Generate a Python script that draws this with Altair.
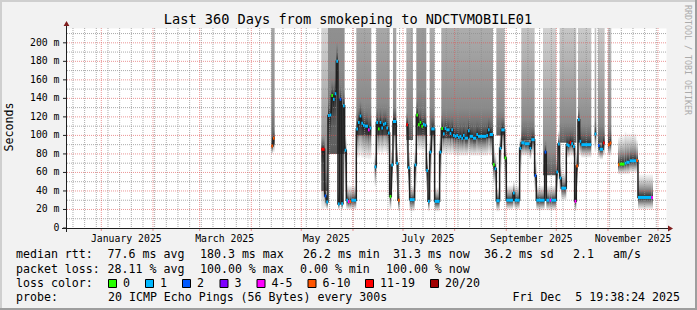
import altair as alt
import pandas as pd

FONT = "DejaVu Sans Mono"

# ---------------- data ----------------
run_start = [
    "2025-04-13", "2025-04-14", "2025-05-13", "2025-05-15", "2025-05-16", "2025-05-17", "2025-05-18",
    "2025-05-19", "2025-05-20", "2025-05-21", "2025-05-22", "2025-05-23", "2025-05-24", "2025-05-25",
    "2025-05-26", "2025-05-27", "2025-05-28", "2025-05-29", "2025-05-30", "2025-05-31", "2025-06-03",
    "2025-06-04", "2025-06-05", "2025-06-06", "2025-06-07", "2025-06-08", "2025-06-10", "2025-06-11",
    "2025-06-14", "2025-06-15", "2025-06-16", "2025-06-17", "2025-06-18", "2025-06-19", "2025-06-20",
    "2025-06-21", "2025-06-22", "2025-06-23", "2025-06-24", "2025-06-25", "2025-06-27", "2025-06-28",
    "2025-07-03", "2025-07-04", "2025-07-05", "2025-07-08", "2025-07-09", "2025-07-10", "2025-07-11",
    "2025-07-12", "2025-07-13", "2025-07-14", "2025-07-15", "2025-07-16", "2025-07-17", "2025-07-18",
    "2025-07-20", "2025-07-23", "2025-07-24", "2025-07-25", "2025-07-26", "2025-07-27", "2025-07-29",
    "2025-07-30", "2025-07-31", "2025-08-01", "2025-08-02", "2025-08-03", "2025-08-04", "2025-08-05",
    "2025-08-06", "2025-08-07", "2025-08-09", "2025-08-10", "2025-08-12", "2025-08-14", "2025-08-15",
    "2025-08-20", "2025-08-21", "2025-08-22", "2025-08-24", "2025-08-25", "2025-08-26", "2025-08-28",
    "2025-08-29", "2025-08-31", "2025-09-01", "2025-09-05", "2025-09-06", "2025-09-09", "2025-09-10",
    "2025-09-12", "2025-09-15", "2025-09-16", "2025-09-18", "2025-09-19", "2025-09-24", "2025-09-25",
    "2025-09-27", "2025-09-28", "2025-10-01", "2025-10-02", "2025-10-03", "2025-10-04", "2025-10-07",
    "2025-10-08", "2025-10-09", "2025-10-10", "2025-10-11", "2025-10-12", "2025-10-13", "2025-10-14",
    "2025-10-15", "2025-10-16", "2025-10-24", "2025-10-26", "2025-10-27", "2025-10-29", "2025-11-01",
    "2025-11-02", "2025-11-07", "2025-11-08", "2025-11-11", "2025-11-12", "2025-11-14", "2025-11-18",
    "2025-11-19", "2025-11-27",
]
run_days = [
    1, 1, 2, 1, 1, 1, 1,
    1, 1, 1, 1, 1, 1, 1,
    1, 1, 1, 1, 1, 3, 1,
    1, 1, 1, 1, 2, 1, 1,
    1, 1, 1, 1, 1, 1, 1,
    1, 1, 1, 1, 2, 1, 1,
    1, 1, 3, 1, 1, 1, 1,
    1, 1, 1, 1, 1, 1, 2,
    3, 1, 1, 1, 1, 2, 1,
    1, 1, 1, 1, 1, 1, 1,
    1, 2, 1, 2, 2, 1, 5,
    1, 1, 2, 1, 1, 2, 1,
    2, 1, 4, 1, 3, 1, 2,
    3, 1, 2, 1, 5, 1, 2,
    1, 3, 1, 1, 1, 3, 1,
    1, 1, 1, 1, 1, 1, 1,
    1, 6, 1, 1, 2, 1, 1,
    1, 1, 3, 1, 2, 4, 1,
    8, 1,
]
run_median = [
    88.5, 97, 85, 34.6, 28, 121.5, 122,
    143, 139, 145, 180, 26, 139, 26.2,
    132, 84, 30, 28.5, 28.5, 30, 107,
    114, 121, 113, 111, 110, 106, 108,
    66, 114, 107, 114, 108, 112, 113,
    108, 102.6, 34, 68, 115, 70, 30,
    111.6, 65, 30.6, 68, 122, 111.6, 114,
    110, 112, 111, 62, 28.8, 82, 107,
    28.8, 82, 107.5, 101.7, 107.5, 106, 102,
    106, 100, 99, 100, 98, 99, 97,
    100, 97, 105, 99, 97, 101, 99,
    100, 106, 101, 68.4, 64, 29.5, 86,
    106, 75.6, 30, 37.8, 30, 86, 92,
    91, 86, 95.4, 56.5, 30, 82, 30,
    30, 30, 60.5, 90.7, 54, 43, 90,
    89, 92.5, 91, 88, 28.8, 67, 117,
    93.6, 90, 101.5, 89, 85, 91.8, 90,
    91.8, 68.4, 69, 70, 71, 72.6, 73,
    33, 33,
]
run_low = [
    80, 82, 20, 22, 20, 82, 82,
    90, 88, 90, 100, 20, 85, 20,
    82, 40, 20, 20, 20, 20, 76,
    76, 78, 76, 76, 75, 74, 75,
    45, 80, 80, 82, 80, 82, 82,
    80, 78, 20, 42, 84, 45, 18,
    80, 40, 18, 42, 85, 84, 84,
    84, 84, 82, 40, 18, 50, 82,
    18, 50, 80, 80, 80, 80, 79,
    80, 79, 78, 78, 78, 78, 78,
    78, 78, 80, 78, 78, 78, 78,
    78, 80, 78, 50, 45, 18, 60,
    85, 50, 20, 22, 20, 60, 78,
    78, 74, 80, 40, 19, 50, 19,
    19, 19, 40, 70, 40, 30, 76,
    76, 78, 78, 76, 18, 45, 80,
    78, 76, 82, 76, 74, 78, 78,
    78, 58, 58, 58, 58, 60, 60,
    20, 20,
]
run_high = [
    96, 106, 100, 60, 48, 140, 140,
    160, 158, 165, 200, 45, 155, 45,
    150, 100, 48, 46, 46, 46, 125,
    130, 138, 130, 128, 126, 122, 124,
    80, 130, 124, 130, 124, 128, 128,
    124, 118, 60, 85, 130, 90, 42,
    125, 85, 46, 85, 138, 128, 130,
    126, 128, 126, 80, 44, 100, 122,
    44, 100, 122, 118, 122, 120, 118,
    120, 116, 115, 116, 114, 115, 113,
    116, 113, 120, 115, 113, 117, 115,
    116, 120, 117, 90, 80, 44, 100,
    120, 90, 46, 50, 46, 98, 106,
    105, 100, 108, 75, 46, 95, 46,
    46, 46, 75, 105, 70, 60, 104,
    103, 106, 105, 102, 44, 85, 130,
    108, 104, 115, 103, 100, 106, 104,
    106, 98, 100, 104, 102, 102, 95,
    58, 58,
]
run_loss = [
    "6-10", "6-10", "11-19", "2", "1", "1", "1",
    "0", "1", "1", "1", "1", "2", "1",
    "1", "1", "1", "4-5", "6-10", "1", "1",
    "1", "1", "1", "1", "1", "4-5", "1",
    "1", "1", "0", "1", "1", "1", "1",
    "1", "1", "0", "1", "1", "1", "6-10",
    "11-19", "1", "1", "1", "0", "0", "0",
    "0", "1", "1", "1", "1", "1", "1",
    "1", "1", "0", "1", "1", "1", "1",
    "1", "1", "1", "1", "1", "1", "1",
    "1", "1", "1", "1", "1", "1", "1",
    "1", "1", "1", "0", "1", "1", "1",
    "1", "0", "1", "1", "1", "1", "1",
    "1", "1", "1", "2", "1", "2", "1",
    "4-5", "1", "1", "1", "1", "1", "1",
    "1", "11-19", "1", "1", "4-5", "6-10", "1",
    "1", "1", "1", "2", "1", "11-19", "6-10",
    "6-10", "6-10", "0", "1", "1", "1", "6-10",
    "1", "4-5",
]

# upper smoke (spread of the slow pings) per period
block_start = ["2025-04-13", "2025-05-13", "2025-05-17", "2025-06-03", "2025-06-15", "2025-06-25",
               "2025-07-03", "2025-07-09", "2025-07-17", "2025-07-24", "2025-08-26", "2025-09-10",
               "2025-09-23", "2025-10-03", "2025-10-14", "2025-10-24", "2025-10-26", "2025-11-01"]
block_days = [2, 4, 10, 9, 8, 2, 4, 6, 3, 31, 5, 8, 8, 10, 8, 1, 4, 2]
block_bottom = [90, 40, 80, 100, 100, 100, 95, 100, 100, 97, 100, 95, 57, 92, 92, 100, 92, 92]
block_top = [500, 300, 1000, 450, 450, 450, 380, 600, 420, 420, 360, 320, 300, 310, 300, 300, 300, 300]

loss_labels = ["0", "1", "2", "3", "4-5", "6-10", "11-19", "20/20"]
y_ticks = [0, 20, 40, 60, 80, 100, 120, 140, 160, 180, 200]
y_tick_labels = ["0", "20 m", "40 m", "60 m", "80 m", "100 m", "120 m", "140 m", "160 m", "180 m", "200 m"]
month_label_dates = ["2025-01-16", "2025-03-16", "2025-05-16", "2025-07-16", "2025-09-16", "2025-11-16"]
month_labels = ["January 2025", "March 2025", "May 2025", "July 2025", "September 2025", "November 2025"]

title_text = "Last 360 Days from smokeping to NDCTVMOBILE01"
rtt_texts = ["median rtt:", "77.6 ms avg", "180.3 ms max", "26.2 ms min", "31.3 ms now",
             "36.2 ms sd", "2.1", "am/s"]
loss_texts = ["packet loss:", "28.11 % avg", "100.00 % max", "0.00 % min", "100.00 % now"]
probe_texts = ["probe:", "20 ICMP Echo Pings (56 Bytes) every 300s", "Fri Dec\u00a0 5 19:38:24 2025"]

# ---------------- styles / layout ----------------
loss_colors = ["#26ff00", "#00b8ff", "#0059ff", "#7e00ff", "#ff00ff", "#ff5500", "#ff0000", "#a10000"]
PADL, PADT, W, H = 66, 28, 600, 200
YMAX = 216

t0 = int(pd.Timestamp("2024-12-10 19:38:24", tz="UTC").timestamp() * 1000)
t1 = int(pd.Timestamp("2025-12-05 19:38:24", tz="UTC").timestamp() * 1000)
xscale = alt.Scale(type="utc", domain=[t0, t1])
yscale = alt.Scale(domain=[0, YMAX], nice=False, zero=False)

# ---------------- tables ----------------
runs = pd.DataFrame({"start": pd.to_datetime(run_start), "days": run_days, "median": run_median,
                     "low": run_low, "high": run_high, "loss": run_loss})
runs["end"] = runs["start"] + pd.to_timedelta(runs["days"], unit="D")
runs["s"] = runs["start"].dt.strftime("%Y-%m-%d")
runs["e"] = runs["end"].dt.strftime("%Y-%m-%d")
runs_tbl = runs[["s", "e", "median", "low", "high", "loss"]]

blocks = pd.DataFrame({"start": pd.to_datetime(block_start), "days": block_days,
                       "bottom": block_bottom, "top": block_top})
blocks["s"] = blocks["start"].dt.strftime("%Y-%m-%d")
blocks["e"] = (blocks["start"] + pd.to_timedelta(blocks["days"], unit="D")).dt.strftime("%Y-%m-%d")
blocks_tbl = blocks[["s", "e", "bottom", "top"]]

line_rows = []
grp = 0
prev_end = None
for i, r in runs.iterrows():
    if prev_end is not None and r["start"] != prev_end:
        grp += 1
    line_rows.append({"t": r["s"], "m": r["median"], "g": grp, "o": 2 * i})
    line_rows.append({"t": r["e"], "m": r["median"], "g": grp, "o": 2 * i + 1})
    prev_end = r["end"]
line_tbl = pd.DataFrame(line_rows)

weeks = pd.DataFrame({"t": pd.date_range("2024-12-15", "2025-11-30", freq="7D").strftime("%Y-%m-%d")})
months = pd.DataFrame({"t": pd.date_range("2025-01-01", "2025-12-01", freq="MS").strftime("%Y-%m-%d")})
ymin_tbl = pd.DataFrame({"v": list(range(10, YMAX, 20))})
ymaj_tbl = pd.DataFrame({"v": list(range(20, 201, 20))})
ylab_tbl = pd.DataFrame({"v": y_ticks, "label": y_tick_labels})
mlab_tbl = pd.DataFrame({"t": month_label_dates, "label": month_labels})
one = pd.DataFrame({"k": [0]})


def vgrad(stops):
    return {"gradient": "linear", "x1": 0, "y1": 1, "x2": 0, "y2": 0,
            "stops": [{"offset": o, "color": c} for o, c in stops]}


X = lambda f: alt.X(f, scale=xscale, axis=None)
Y = lambda f: alt.Y(f, scale=yscale, axis=None)

layers = []

# upper smoke blocks
layers.append(alt.Chart(blocks_tbl).mark_rect(
    clip=True, fill=vgrad([(0, "#5a5a5a"), (0.1, "#8a8a8a"), (1, "#ffffff")])
).encode(x=X("s:T"), x2="e:T", y=Y("bottom:Q"), y2="top:Q"))

# local smoke around the median
layers.append(alt.Chart(runs_tbl).mark_rect(
    clip=True, fill=vgrad([(0, "rgba(110,110,110,0.08)"), (0.6, "rgba(60,60,60,0.6)"),
                           (1, "rgba(25,25,25,0.95)")])
).encode(x=X("s:T"), x2="e:T", y=Y("low:Q"), y2="median:Q"))
layers.append(alt.Chart(runs_tbl).mark_rect(
    clip=True, fill=vgrad([(0, "rgba(25,25,25,0.95)"), (0.35, "rgba(60,60,60,0.6)"),
                           (1, "rgba(110,110,110,0.05)")])
).encode(x=X("s:T"), x2="e:T", y=Y("median:Q"), y2="high:Q"))

# grid
GRID = dict(color="#8f8f8f", opacity=0.75, strokeDash=[1, 1], strokeWidth=1)
MGRID = dict(color="#de5050", opacity=0.6, strokeDash=[1, 1], strokeWidth=1)
layers.append(alt.Chart(weeks).mark_rule(**GRID).encode(x=X("t:T")))
layers.append(alt.Chart(ymin_tbl).mark_rule(**GRID).encode(y=Y("v:Q")))
layers.append(alt.Chart(months).mark_rule(**MGRID).encode(x=X("t:T")))
layers.append(alt.Chart(ymaj_tbl).mark_rule(**MGRID).encode(y=Y("v:Q")))
layers.append(alt.Chart(months).mark_rule(color="#de5050", opacity=0.6).encode(
    x=X("t:T"), y=alt.value(H), y2=alt.value(H + 3)))

# y labels and ticks
layers.append(alt.Chart(ylab_tbl).mark_rule(color="#1f1f1f").encode(
    x=alt.value(-3), x2=alt.value(0), y=Y("v:Q")))
layers.append(alt.Chart(ylab_tbl).mark_text(font=FONT, fontSize=9.8, align="right", baseline="middle",
                                            color="#000000").encode(
    x=alt.value(59.5 - PADL), y=Y("v:Q"), text="label:N"))

# median line and loss-coloured median markers
layers.append(alt.Chart(line_tbl).mark_line(color="#202020", strokeWidth=1.5, clip=True).encode(
    x=X("t:T"), y=Y("m:Q"), detail="g:N", order="o:Q"))
layers.append(alt.Chart(runs_tbl).mark_rule(strokeWidth=3, clip=True).encode(
    x=X("s:T"), x2="e:T", y=Y("median:Q"),
    color=alt.Color("loss:N", scale=alt.Scale(domain=loss_labels, range=loss_colors), legend=None)))

# axes lines and arrows
layers.append(alt.Chart(one).mark_rule(color="#1f1f1f").encode(
    x=alt.value(-4), x2=alt.value(602), y=alt.value(H + 0.5)))
layers.append(alt.Chart(one).mark_rule(color="#1f1f1f").encode(
    x=alt.value(0.5), y=alt.value(-2), y2=alt.value(H + 4)))
layers.append(alt.Chart(one).mark_point(shape="triangle-up", filled=True, size=34, color="#801f1f",
                                        opacity=1).encode(x=alt.value(0.5), y=alt.value(-4.5)))
layers.append(alt.Chart(one).mark_point(shape="triangle-right", filled=True, size=34, color="#801f1f",
                                        opacity=1).encode(x=alt.value(604.5), y=alt.value(H + 0.5)))

# month labels
layers.append(alt.Chart(mlab_tbl).mark_text(font=FONT, fontSize=9.8, align="center",
                                            baseline="alphabetic", color="#000000").encode(
    x=X("t:T"), y=alt.value(241.5 - PADT), text="label:N"))


def txt(text, cx, cy, size=11.6, align="left", color="#000000", angle=0, baseline="alphabetic"):
    return alt.Chart(one).mark_text(text=text, font=FONT, fontSize=size, align=align, baseline=baseline,
                                    color=color, angle=angle).encode(
        x=alt.value(cx - PADL), y=alt.value(cy - PADT))


layers.append(txt(title_text, 348, 23.5, size=13.6, align="center"))
layers.append(txt("Seconds", 10, 127, size=11.6, align="center", angle=270, baseline="middle"))
layers.append(txt("RRDTOOL / TOBI OETIKER", 687, 5, size=8.3, color="#ababab", angle=90,
                  baseline="middle"))

rtt_x = [16, 107.6, 200, 303, 393, 484, 573, 613]
for s, xx in zip(rtt_texts, rtt_x):
    layers.append(txt(s, xx, 258))
loss_x = [16, 107.6, 200, 300, 386]
for s, xx in zip(loss_texts, loss_x):
    layers.append(txt(s, xx, 272.5))
layers.append(txt("loss color:", 16, 287))
sw_x = [108, 145, 182, 219.5, 256.5, 307.5, 365, 430]
for lab, col, xx in zip(loss_labels, loss_colors, sw_x):
    layers.append(alt.Chart(one).mark_rect(fill=col, stroke="#000000", strokeWidth=1).encode(
        x=alt.value(xx + 0.5 - PADL), x2=alt.value(xx + 8.5 - PADL),
        y=alt.value(279.5 - PADT), y2=alt.value(287.5 - PADT)))
    layers.append(txt(lab, xx + 15, 287))
layers.append(txt(probe_texts[0], 16, 301))
layers.append(txt(probe_texts[1], 108, 301))
layers.append(txt(probe_texts[2], 680, 301, align="right"))

# 3D frame of the canvas
for (xa, xb, ya, yb, col) in [(0, 697, 0, 2, "#cfcfcf"), (0, 2, 0, 310, "#cfcfcf"),
                              (0, 697, 308, 310, "#9e9e9e"), (695, 697, 0, 310, "#9e9e9e")]:
    layers.append(alt.Chart(one).mark_rect(fill=col).encode(
        x=alt.value(xa - PADL), x2=alt.value(xb - PADL), y=alt.value(ya - PADT), y2=alt.value(yb - PADT)))

chart = alt.layer(*layers).properties(
    width=W, height=H,
    padding={"left": PADL, "top": PADT, "right": 697 - PADL - W, "bottom": 310 - PADT - H},
    autosize=alt.AutoSizeParams(type="none"),
).configure(background="#f2f2f2").configure_view(fill="white", stroke="transparent")

chart.save("out.html", embed_options={"renderer": "svg", "actions": False})
